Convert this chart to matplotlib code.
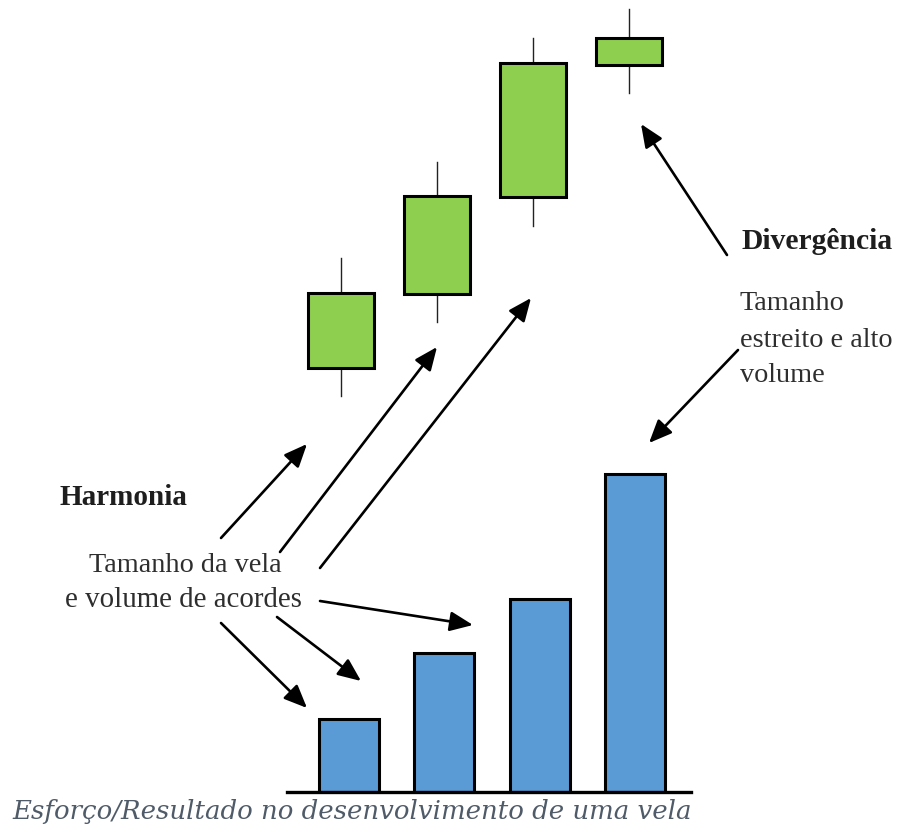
import matplotlib.pyplot as plt
from matplotlib.patches import Rectangle

# Candles (price units)
candle_x = [1, 2, 3, 4]
candle_open = [13.0, 31.5, 55.8, 88.8]
candle_close = [31.8, 56.0, 89.3, 95.5]
candle_high = [40.5, 64.5, 95.5, 102.8]
candle_low = [6.0, 24.5, 48.5, 81.8]

# Volume bars
vol_x = [1, 2, 3, 4]
volumes = [2.3, 4.4, 6.1, 10.05]

green = "#8fcf4f"
blue = "#5b9bd5"

W, H = 897, 834
fig = plt.figure(figsize=(W / 100, H / 100), dpi=100)
fig.patch.set_facecolor("white")

# candle axes: x=1 -> px 341, spacing 96 px; y 0..105 over px 420..0
ax_c = fig.add_axes([245 / W, (H - 420) / H, 480 / W, 420 / H])
ax_c.set_xlim(0, 5)
ax_c.set_ylim(0, 105)
ax_c.axis("off")
body_w = 0.69
for x, o, c, hi, lo in zip(candle_x, candle_open, candle_close, candle_high, candle_low):
    ax_c.plot([x, x], [lo, min(o, c)], color="#222222", lw=1.0, zorder=1)
    ax_c.plot([x, x], [max(o, c), hi], color="#222222", lw=1.0, zorder=1)
    ax_c.add_patch(Rectangle((x - body_w / 2, min(o, c)), body_w, abs(c - o),
                             facecolor=green, edgecolor="black", lw=2.2, zorder=2))

# volume axes: x=1 -> px 349, spacing 95.3 px; y 0..10.5 over px 792..460
vx0 = 349 - 95.3 * 1.0
ax_v = fig.add_axes([vx0 / W, (H - 792) / H, 95.3 * 5 / W, 332 / H])
ax_v.set_xlim(0, 5)
ax_v.set_ylim(0, 10.5)
ax_v.axis("off")
ax_v.bar(vol_x, volumes, width=0.63, color=blue, edgecolor="black", linewidth=2.2, zorder=2)
ax_v.plot([0.35, 4.59], [0, 0], color="black", lw=2.4, clip_on=False, zorder=3)

# overlay in pixel coordinates for text and arrows
ov = fig.add_axes([0, 0, 1, 1])
ov.set_xlim(0, W)
ov.set_ylim(H, 0)
ov.axis("off")
ov.patch.set_alpha(0)

arrows = [
    ((221, 538), (307, 444)),
    ((280, 552), (437, 347)),
    ((320, 568), (531, 298)),
    ((320, 601), (473, 625)),
    ((277, 617), (361, 681)),
    ((221, 623), (307, 708)),
    ((727, 255), (641, 124)),
    ((738, 350), (649, 443)),
]
for tail, head in arrows:
    ov.annotate("", xy=head, xytext=tail,
                arrowprops=dict(arrowstyle="-|>,head_length=0.7,head_width=0.3",
                                mutation_scale=20, lw=1.9, color="black",
                                shrinkA=0, shrinkB=0))

serif = "Liberation Serif"
txt = "#2e2e2e"
ov.text(60, 497, "Harmonia", fontsize=21, fontweight="bold", family=serif,
        color="#1e1e1e", ha="left", va="center")
ov.text(185, 565, "Tamanho da vela", fontsize=20.3, family=serif, color=txt,
        ha="center", va="center")
ov.text(183, 600, "e volume de acordes", fontsize=20.8, family=serif, color=txt,
        ha="center", va="center")
ov.text(742, 241, "Divergência", fontsize=21.3, fontweight="bold", family=serif,
        color="#1e1e1e", ha="left", va="center")
for y, s in zip([303, 340, 375], ["Tamanho", "estreito e alto", "volume"]):
    ov.text(740, y, s, fontsize=20.3, family=serif, color=txt, ha="left", va="center")

ov.text(12, 811, "Esforço/Resultado no desenvolvimento de uma vela", fontsize=18.7,
        family="DejaVu Serif", style="italic", color="#4f5b68", ha="left", va="center")

fig.savefig("out.png", dpi=100, facecolor="white")
